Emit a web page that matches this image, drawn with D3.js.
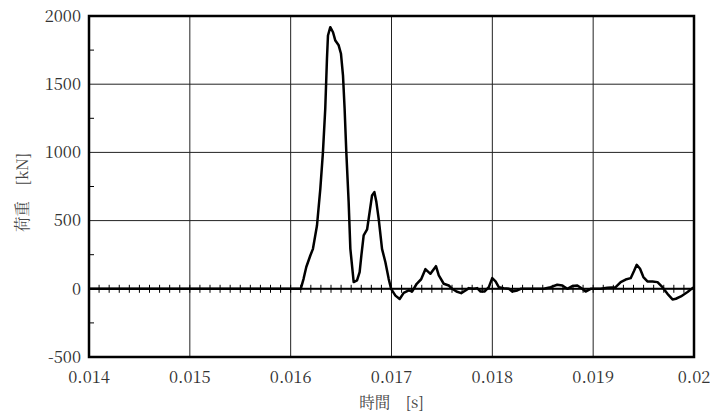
<!DOCTYPE html>
<html>
<head>
<meta charset="utf-8">
<script src="https://d3js.org/d3.v7.min.js"></script>
<style>
  body { margin: 0; background: #fff; }
</style>
</head>
<body>
<div id="viz"></div>
<script>
// time [s] and load [kN]
const timeS = [
  0.01400, 0.01500, 0.01600, 0.01610, 0.016128, 0.016155, 0.016195, 0.016221, 0.016261,
  0.016294, 0.016320, 0.016343, 0.016360, 0.016370, 0.016393, 0.016420, 0.016443,
  0.016476, 0.016499, 0.016519, 0.016535, 0.016552, 0.016575, 0.016592, 0.016625,
  0.016658, 0.016684, 0.016701, 0.016724, 0.016758, 0.016783, 0.016807, 0.016830,
  0.016850, 0.016873, 0.016906, 0.016939, 0.016972, 0.016996, 0.017039, 0.017081,
  0.017121, 0.017171, 0.017204, 0.017250, 0.017294, 0.017336, 0.017386, 0.017441,
  0.017469, 0.017518, 0.017568, 0.017602, 0.017644, 0.017691, 0.017734, 0.017767,
  0.017816, 0.017850, 0.017883, 0.017922, 0.017965, 0.017999, 0.018032, 0.018064,
  0.018114, 0.018164, 0.018197, 0.018247, 0.018280, 0.018511, 0.018578, 0.018644,
  0.018694, 0.018744, 0.018793, 0.018843, 0.018892, 0.018925, 0.018975, 0.019074,
  0.019141, 0.019223, 0.019273, 0.019322, 0.019372, 0.019405, 0.019432, 0.019465,
  0.019498, 0.019538, 0.019588, 0.019638, 0.019687, 0.019737, 0.019787, 0.019820,
  0.019870, 0.019936, 0.019985, 0.020000
];
const loadKN = [
  0, 0, 0, 0, 73, 160, 244, 293, 464,
  733, 1000, 1320, 1686, 1857, 1918, 1881, 1820,
  1785, 1723, 1563, 1320, 1000, 636, 293, 49,
  61, 122, 244, 391, 435, 562, 684, 709,
  636, 513, 293, 196, 73, 0, -50, -75,
  -30, -12, -20, 37, 70, 144, 110, 166,
  98, 37, 24, 0, -20, -32, -12, 5,
  0, 5, -20, -20, 12, 78, 55, 12,
  5, 0, -20, -12, 0, 0, 12, 30,
  24, 0, 20, 24, 0, -20, 0, 0,
  8, 12, 49, 68, 78, 130, 176, 147,
  86, 54, 54, 49, 12, -37, -78, -73,
  -56, -24, 5, 10
];
const xTicks = [0.014, 0.015, 0.016, 0.017, 0.018, 0.019, 0.020];
const xTickLabels = ["0.014", "0.015", "0.016", "0.017", "0.018", "0.019", "0.02"];
const yTicks = [-500, 0, 500, 1000, 1500, 2000];
const yMinorTicks = [-250, 250, 750, 1250, 1750];
const xLabel = "時間　[s]";
const yLabel = "荷重　[kN]";

const serif = "'Noto Serif CJK JP', 'DejaVu Serif', serif";

const width = 710, height = 413;
const margin = {top: 16, right: 16, bottom: 56, left: 89};
const iw = width - margin.left - margin.right;
const ih = height - margin.top - margin.bottom;

const svg = d3.select("#viz").append("svg")
  .attr("width", width).attr("height", height);
const g = svg.append("g").attr("transform", `translate(${margin.left},${margin.top})`);

const x = d3.scaleLinear().domain([0.014, 0.020]).range([0, iw]);
const y = d3.scaleLinear().domain([-500, 2000]).range([ih, 0]);

// grid
g.selectAll(".vgrid").data(xTicks).join("line")
  .attr("x1", d => x(d)).attr("x2", d => x(d))
  .attr("y1", 0).attr("y2", ih)
  .attr("stroke", "#222").attr("stroke-width", 1);
g.selectAll(".hgrid").data(yTicks).join("line")
  .attr("x1", 0).attr("x2", iw)
  .attr("y1", d => y(d)).attr("y2", d => y(d))
  .attr("stroke", "#222").attr("stroke-width", 1);

// zero axis with minor ticks
g.append("line")
  .attr("x1", 0).attr("x2", iw).attr("y1", y(0)).attr("y2", y(0))
  .attr("stroke", "#000").attr("stroke-width", 2);
const minorX = d3.range(1, 60).map(i => 0.014 + i * 0.0001);
g.selectAll(".xminor").data(minorX).join("line")
  .attr("x1", d => x(d)).attr("x2", d => x(d))
  .attr("y1", y(0) - 4).attr("y2", y(0) + 4)
  .attr("stroke", "#000").attr("stroke-width", 1);

// y minor ticks on left axis
g.selectAll(".yminor").data(yMinorTicks).join("line")
  .attr("x1", 0).attr("x2", 5)
  .attr("y1", d => y(d)).attr("y2", d => y(d))
  .attr("stroke", "#000").attr("stroke-width", 1);

// frame
g.append("rect").attr("x", 0).attr("y", 0).attr("width", iw).attr("height", ih)
  .attr("fill", "none").attr("stroke", "#000").attr("stroke-width", 2.5);

// data line
const pts = timeS.map((t, i) => [t, loadKN[i]]);
g.append("path").datum(pts)
  .attr("d", d3.line().x(d => x(d[0])).y(d => y(d[1])))
  .attr("fill", "none").attr("stroke", "#000")
  .attr("stroke-width", 2.5).attr("stroke-linejoin", "round");

// tick labels
g.selectAll(".ylab").data(yTicks).join("text")
  .attr("x", -8).attr("y", d => y(d)).attr("dy", "0.35em")
  .attr("text-anchor", "end").attr("font-size", 16.5).attr("fill", "#333")
  .style("font-family", serif)
  .text(d => d);
g.selectAll(".xlab").data(xTicks).join("text")
  .attr("x", d => x(d)).attr("y", ih + 26)
  .attr("text-anchor", "middle").attr("font-size", 16.5).attr("fill", "#333")
  .style("font-family", serif)
  .text((d, i) => xTickLabels[i]);

// axis titles
svg.append("text")
  .attr("x", margin.left + iw / 2).attr("y", 408)
  .attr("text-anchor", "middle").attr("font-size", 15.5).attr("fill", "#444")
  .style("font-family", serif)
  .text(xLabel);
svg.append("text")
  .attr("transform", `translate(28,${margin.top + ih / 2 + 6}) rotate(-90)`)
  .attr("text-anchor", "middle").attr("font-size", 15.5).attr("fill", "#444")
  .style("font-family", serif)
  .text(yLabel);
</script>
</body>
</html>
